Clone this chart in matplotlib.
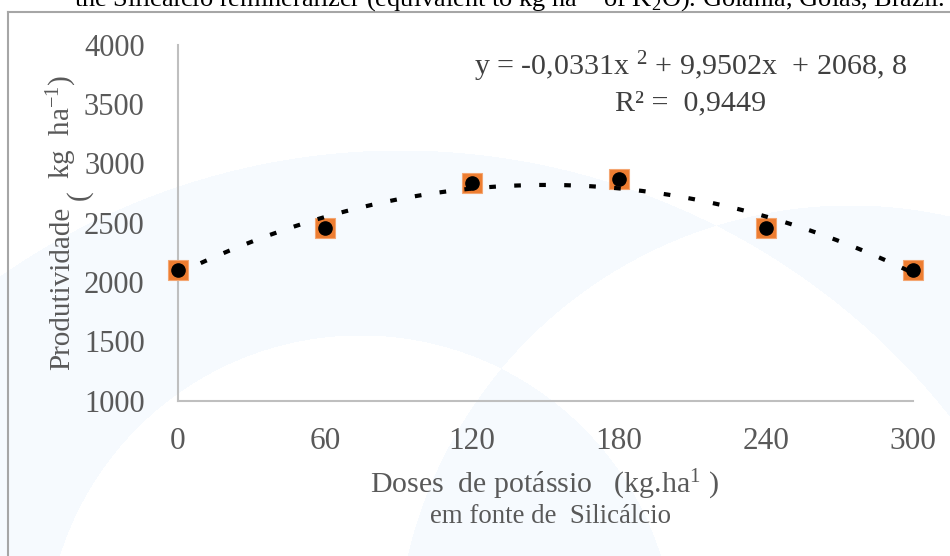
import numpy as np
import matplotlib
matplotlib.use("Agg")
import matplotlib.pyplot as plt
from matplotlib.colors import ListedColormap

plt.rcParams['font.family'] = ['Liberation Serif', 'DejaVu Serif']
plt.rcParams['mathtext.fontset'] = 'custom'
plt.rcParams['mathtext.rm'] = 'Liberation Serif'
plt.rcParams['mathtext.it'] = 'Liberation Serif:italic'
plt.rcParams['mathtext.bf'] = 'Liberation Serif:bold'

# ---- data ----
doses = [0, 60, 120, 180, 240, 300]
prod_obs = [2100, 2450, 2830, 2870, 2450, 2100]      # orange squares
prod_mean = [2100, 2450, 2830, 2870, 2450, 2100]     # black circles
trend_coef = [-0.0331, 9.9502, 2068.8]               # quadratic trendline
x_ticks = [0, 60, 120, 180, 240, 300]
y_ticks = [1000, 1500, 2000, 2500, 3000, 3500, 4000]

W, H = 950, 556
fig = plt.figure(figsize=(W / 100, H / 100), dpi=100)

def fx(x):
    return x / W

def fy(y):
    return 1 - y / H

# ---- faint watermark background ----
bg = fig.add_axes([0, 0, 1, 1], zorder=-10)
yy, xx = np.mgrid[0:H, 0:W]
circles = [(400, 850, 700), (360, 650, 315), (850, 660, 455)]
parity = np.zeros((H, W), dtype=int)
for cx, cy, r in circles:
    parity += ((xx - cx) ** 2 + (yy - cy) ** 2 < r ** 2).astype(int)
bg.imshow(parity % 2, cmap=ListedColormap(['#FFFFFF', '#F6FAFE']),
          extent=[0, W, H, 0], aspect='auto', interpolation='nearest')
bg.set_xlim(0, W)
bg.set_ylim(H, 0)
bg.axis('off')
# frame lines of the original figure box
bg.plot([8, 8], [12, H], color='#A6A6A6', lw=1.5)
bg.plot([8, W], [12, 12], color='#A6A6A6', lw=1.5)

# clipped caption line at the top (cut off in the original too)
fig.text(fx(509), fy(6), "the Silicálcio remineralizer (equivalent to kg ha$^{-1}$ of K$_{2}$O). Goiânia, Goiás, Brazil.",
         ha='center', va='baseline', fontsize=19, color='#000000')

# ---- main axes ----
ax = fig.add_axes([fx(178), fy(400.5), fx(913) - fx(178), fy(44.5) - fy(400.5)])
ax.set_facecolor('none')
ax.set_xlim(0, 300)
ax.set_ylim(1000, 4000)
ax.set_xticks(x_ticks)
ax.set_yticks(y_ticks)
ax.set_xticklabels([str(v) for v in x_ticks])
ax.set_yticklabels([str(v) for v in y_ticks])
ax.tick_params(axis='both', length=0, colors='#595959')
ax.tick_params(axis='y', pad=24, labelsize=22)
ax.tick_params(axis='x', pad=19, labelsize=22.5)
for s in ['top', 'right']:
    ax.spines[s].set_visible(False)
for s in ['left', 'bottom']:
    ax.spines[s].set_color('#BFBFBF')
    ax.spines[s].set_linewidth(1.5)
for lab in ax.get_xticklabels() + ax.get_yticklabels():
    lab.set_clip_on(False)

ax.plot(doses, prod_obs, linestyle='none', marker='s', markersize=15,
        markerfacecolor='#ED7D31', markeredgecolor='#F4A672', markeredgewidth=0.8,
        zorder=3, clip_on=False)
ax.plot(doses, prod_mean, linestyle='none', marker='o', markersize=9.5,
        markerfacecolor='black', markeredgecolor='black', zorder=4, clip_on=False)

xt = np.linspace(0, 300, 400)
yt = np.polyval(trend_coef, xt)
ax.plot(xt, yt, color='black', lw=3, linestyle=(0, (1.6, 4.4)),
        dash_capstyle='butt', zorder=5, clip_on=False)

# ---- equation ----
fig.text(fx(691), fy(67), "y = -0,0331x $^{2}$ + 9,9502x  + 2068, 8",
         ha='center', va='center', fontsize=21.6, color='#404040')
fig.text(fx(691), fy(103), "R² =  0,9449",
         ha='center', va='center', fontsize=21.6, color='#404040')

# ---- axis labels ----
fig.text(fx(62), fy(288), "Produtividade", rotation=90, ha='center', va='center',
         fontsize=21, color='#595959')
fig.text(fx(79), fy(195), "(", rotation=90, ha='center', va='center',
         fontsize=21, color='#595959')
fig.text(fx(62), fy(127), "kg  ha$^{-1}$)", rotation=90, ha='center', va='center',
         fontsize=21, color='#595959')

fig.text(fx(545), fy(493), "Doses  de potássio   (kg.ha$^{1}$ )", ha='center', va='baseline',
         fontsize=21.5, color='#595959')
fig.text(fx(551), fy(523), "em fonte de  Silicálcio", ha='center', va='baseline',
         fontsize=19.4, color='#595959')

fig.savefig('out.png', dpi=100)
